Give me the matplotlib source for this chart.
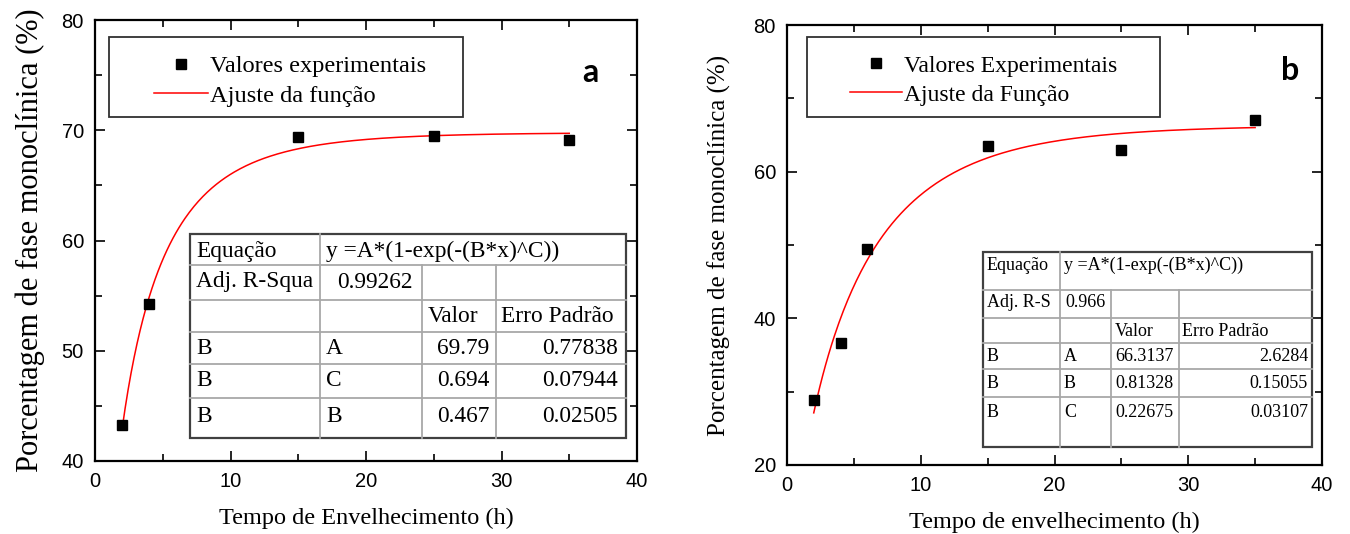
import numpy as np
import matplotlib
matplotlib.use('Agg')
import matplotlib.pyplot as plt
from matplotlib.patches import Rectangle
from matplotlib.font_manager import FontProperties
from matplotlib.ticker import MultipleLocator

# ---------------- data ----------------
x_a = [2, 4, 15, 25, 35]
y_a = [43.3, 54.2, 69.4, 69.5, 69.1]
fit_a = dict(A=69.79, B=0.467, C=0.694)

x_b = [2, 4, 6, 15, 25, 35]
y_b = [28.8, 36.6, 49.5, 63.5, 62.9, 67.0]
fit_b = dict(A=66.3137, B=0.22675, C=0.81328)

fit_range = (2, 35)

labels_a = ['Valores experimentais', 'Ajuste da função']
labels_b = ['Valores Experimentais', 'Ajuste da Função']
xlabel_a = 'Tempo de Envelhecimento (h)'
xlabel_b = 'Tempo de envelhecimento (h)'
ylabel = 'Porcentagem de fase monoclínica (%)'

tab_a_eq = ['Equação', 'y =A*(1-exp(-(B*x)^C))']
tab_a_r2 = ['Adj. R-Squa', '0.99262']
tab_a_head = ['Valor', 'Erro Padrão']
tab_a_rows = [['B', 'A', '69.79', '0.77838'],
              ['B', 'C', '0.694', '0.07944'],
              ['B', 'B', '0.467', '0.02505']]

tab_b_eq = ['Equação', 'y =A*(1-exp(-(B*x)^C))']
tab_b_r2 = ['Adj. R-S', '0.966']
tab_b_head = ['Valor', 'Erro Padrão']
tab_b_rows = [['B', 'A', '66.3137', '2.6284'],
              ['B', 'B', '0.81328', '0.15055'],
              ['B', 'C', '0.22675', '0.03107']]

# ---------------- figure ----------------
W, H = 1350, 534
fig = plt.figure(figsize=(13.5, 5.34), dpi=100)

def fx(px):
    return px / W

def fy(py):
    return 1 - py / H

def make_axes(l, t, r, b):
    return fig.add_axes([fx(l), fy(b), fx(r) - fx(l), fy(t) - fy(b)])

SERIF = 'Liberation Serif'
SANS = 'Liberation Sans'

def model(x, A, B, C):
    return A * (1 - np.exp(-(B * x) ** C))

def style_axes(ax, xlim, ylim, xmaj, ymaj):
    ax.set_xlim(*xlim)
    ax.set_ylim(*ylim)
    ax.xaxis.set_major_locator(MultipleLocator(xmaj))
    ax.xaxis.set_minor_locator(MultipleLocator(xmaj / 2))
    ax.yaxis.set_major_locator(MultipleLocator(ymaj))
    ax.yaxis.set_minor_locator(MultipleLocator(ymaj / 2))
    for s in ax.spines.values():
        s.set_linewidth(1.6)
    ax.tick_params(which='both', direction='in', right=True, top=True, width=1.2)
    ax.tick_params(which='major', length=7, labelsize=14.5, pad=8)
    ax.tick_params(which='minor', length=5)
    for lab in ax.get_xticklabels() + ax.get_yticklabels():
        lab.set_fontfamily(SANS)

def draw_panel(ax, xs, ys, fit, labels, xlabel, ylsize, ylpad, legfs, leg_anchor, box):
    ax.plot(xs, ys, 's', color='black', ms=7, label=labels[0], zorder=3)
    xc = np.linspace(fit_range[0], fit_range[1], 300)
    ax.plot(xc, model(xc, **fit), '-', color='#ff0000', lw=1.1, label=labels[1], zorder=2)
    ax.set_xlabel(xlabel, fontfamily=SERIF, fontsize=17.5, labelpad=12)
    ax.set_ylabel(ylabel, fontfamily=SERIF, fontsize=ylsize, labelpad=ylpad)
    ax.legend(loc='upper left', bbox_to_anchor=(fx(leg_anchor[0]), fy(leg_anchor[1])),
              bbox_transform=fig.transFigure, frameon=False,
              prop=FontProperties(family=SERIF, size=legfs), handlelength=2.2,
              handletextpad=0.1, labelspacing=0.32, borderpad=0, borderaxespad=0,
              numpoints=1)
    l, t, r, b = box
    fig.patches.append(Rectangle((fx(l), fy(b)), fx(r) - fx(l), fy(t) - fy(b),
                                 transform=fig.transFigure, fill=False,
                                 edgecolor='#303030', lw=1.3, zorder=5))

def draw_table(l, t, r, b, rows_y, cols_x, eq, r2, head, rows, fs, text_y, tx):
    ax = make_axes(l, t, r, b)
    ax.set_xlim(l, r)
    ax.set_ylim(b, t)
    ax.axis('off')
    ax.add_patch(Rectangle((l, t), r - l, b - t, facecolor='white', edgecolor='none'))
    inner = dict(color='#a8a8a8', lw=1.3, clip_on=False)
    for yy in rows_y[1:-1]:
        ax.plot([l, r], [yy, yy], **inner)
    ax.plot([cols_x[1], cols_x[1]], [t, b], **inner)
    for cx in cols_x[2:-1]:
        ax.plot([cx, cx], [rows_y[1], b], **inner)
    ax.add_patch(Rectangle((l, t), r - l, b - t, fill=False, edgecolor='#404040',
                           lw=1.6, clip_on=False))
    kw = dict(fontfamily=SERIF, fontsize=fs, va='center')
    ax.text(tx['c1'], text_y[0], eq[0], ha='left', **kw)
    ax.text(tx['c2'], text_y[0], eq[1], ha='left', **kw)
    ax.text(tx['c1'], text_y[1], r2[0], ha='left', **kw)
    ax.text(tx['r2x'], text_y[1], r2[1], ha=tx['r2ha'], **kw)
    ax.text(tx['c3'], text_y[2], head[0], ha='left', **kw)
    ax.text(tx['c4'], text_y[2], head[1], ha='left', **kw)
    for i, row in enumerate(rows):
        yy = text_y[3 + i]
        ax.text(tx['c1'], yy, row[0], ha='left', **kw)
        ax.text(tx['c2'], yy, row[1], ha='left', **kw)
        ax.text(tx['v3'], yy, row[2], ha=tx['v3ha'], **kw)
        ax.text(tx['v4'], yy, row[3], ha='right', **kw)

# ---- panel a ----
ax_a = make_axes(95, 20, 637, 461)
style_axes(ax_a, (0, 40), (40, 80), 10, 10)
draw_panel(ax_a, x_a, y_a, fit_a, labels_a, xlabel_a, 22, 12, 17.6,
           (154, 55), (109, 37, 463, 117))
fig.text(fx(590), fy(73), 'a', fontfamily='Lato', fontweight='bold', fontsize=23,
         ha='center', va='center')
draw_table(190, 234, 626, 438,
           [234, 265, 300, 332, 364, 398, 438], [190, 320, 422, 496, 626],
           tab_a_eq, tab_a_r2, tab_a_head, tab_a_rows, 16.8,
           [251, 282, 316, 348, 381, 417],
           dict(c1=196, c2=326, r2x=413, r2ha='right', c3=428, c4=501,
                v3=489, v3ha='right', v4=618))

# ---- panel b ----
ax_b = make_axes(787, 25, 1322, 465)
style_axes(ax_b, (0, 40), (20, 80), 10, 20)
draw_panel(ax_b, x_b, y_b, fit_b, labels_b, xlabel_b, 18, 16, 17,
           (850, 55), (807, 37, 1160, 117))
fig.text(fx(1290), fy(70), 'b', fontfamily='Lato', fontweight='bold', fontsize=23,
         ha='center', va='center')
draw_table(983, 252, 1312, 447,
           [252, 290, 318, 343, 369, 397, 447], [983, 1060, 1111, 1179, 1312],
           tab_b_eq, tab_b_r2, tab_b_head, tab_b_rows, 13,
           [265, 302, 331, 356, 383, 412],
           dict(c1=987, c2=1064, r2x=1065, r2ha='left', c3=1115, c4=1182,
                v3=1115, v3ha='left', v4=1308))

fig.savefig('out.png', dpi=100)
